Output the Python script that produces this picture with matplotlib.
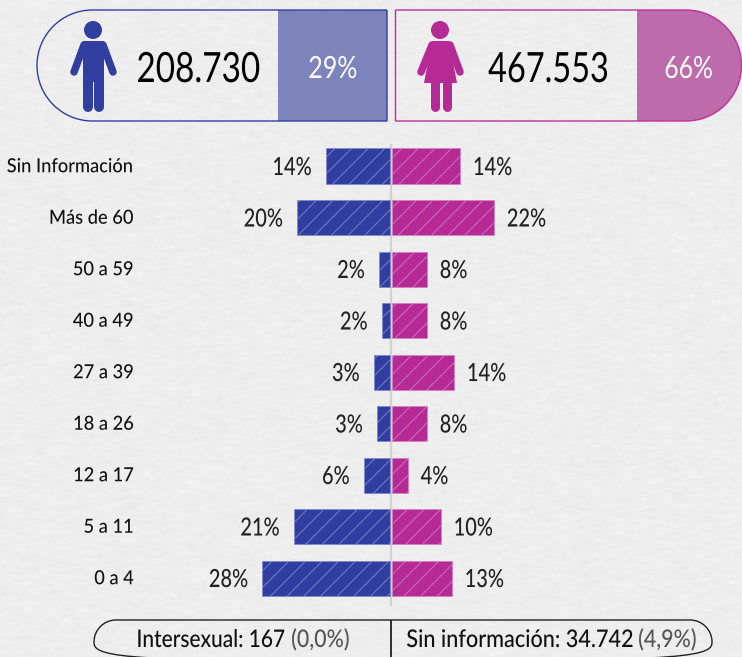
import numpy as np
import matplotlib
matplotlib.use('Agg')
import matplotlib.pyplot as plt
from matplotlib.patches import Circle, Polygon, PathPatch, Rectangle
from matplotlib.path import Path
from matplotlib.transforms import Affine2D
import matplotlib.patheffects as pe

categories = ['0 a 4', '5 a 11', '12 a 17', '18 a 26', '27 a 39', '40 a 49', '50 a 59', 'Más de 60', 'Sin Información']
men_len = [27.8, 20.9, 5.7, 2.8, 3.5, 1.8, 2.4, 20.2, 13.9]
women_len = [13.0, 10.6, 3.5, 7.6, 13.5, 7.6, 7.6, 22.2, 14.8]
men_labels = ['28%', '21%', '6%', '3%', '3%', '2%', '2%', '20%', '14%']
women_labels = ['13%', '10%', '4%', '8%', '14%', '8%', '8%', '22%', '14%']
men_total, men_share = '208.730', '29%'
women_total, women_share = '467.553', '66%'

BLUE = '#303f9f'
PINK = '#b52a94'
W, H = 742, 657
plt.rcParams['font.family'] = ['Lato', 'DejaVu Sans']
plt.rcParams['hatch.linewidth'] = 0.6


class Condense(pe.AbstractPathEffect):
    """Draws the real text narrower, keeping its left or right edge."""
    def __init__(self, sx, align='left'):
        super().__init__()
        self.sx, self.align = sx, align

    def draw_path(self, renderer, gc, tpath, affine, rgbFace=None):
        ext = tpath.get_extents()
        anchor = ext.x1 if self.align == 'right' else ext.x0
        t = Affine2D().translate(-anchor, 0).scale(self.sx, 1).translate(anchor, 0)
        renderer.draw_path(gc, tpath, t + affine, rgbFace)


fig = plt.figure(figsize=(W / 100, H / 100), dpi=100)

bg = fig.add_axes([0, 0, 1, 1])
bg.set_xlim(0, W); bg.set_ylim(H, 0); bg.axis('off')

rng = np.random.default_rng(3)
n = rng.normal(size=(H + 20, W + 20))
kx = np.ones(9) / 9; ky = np.ones(3) / 3
n = np.apply_along_axis(lambda r: np.convolve(r, kx, 'same'), 1, n)
n = np.apply_along_axis(lambda r: np.convolve(r, ky, 'same'), 0, n)
tex = 237 + n[10:-10, 10:-10] * 6
bg.imshow(np.clip(tex, 0, 255) / 255, cmap='gray', vmin=0, vmax=1, extent=(0, W, H, 0), aspect='auto', zorder=0)


def half_round(x0, x1, y0, y1, side):
    r = (y1 - y0) / 2
    k = 0.5523 * r
    C = Path.CURVE4; L = Path.LINETO
    if side == 'left':
        v = [(x1, y0), (x1, y1), (x0 + r, y1), (x0 + r - k, y1), (x0, y1 - r + k), (x0, y0 + r),
             (x0, y0 + r - k), (x0 + r - k, y0), (x0 + r, y0), (x1, y0)]
    else:
        v = [(x0, y0), (x0, y1), (x1 - r, y1), (x1 - r + k, y1), (x1, y1 - r + k), (x1, y0 + r),
             (x1, y0 + r - k), (x1 - r + k, y0), (x1 - r, y0), (x0, y0)]
    return Path(v, [Path.MOVETO, L, L, C, C, C, C, C, C, L])


def panel(x0, x1, fx0, fx1, side, color, fill):
    p = PathPatch(half_round(x0, x1, 10, 121, side), fc='none', ec=color, lw=1.0, zorder=3)
    bg.add_patch(p)
    r = Rectangle((fx0, 10), fx1 - fx0, 111, fc=fill, ec='none', zorder=2)
    bg.add_patch(r)
    r.set_clip_path(p)


panel(37, 387, 278, 387, 'left', BLUE, '#7d84bc')
panel(395.5, 741.5, 637, 742, 'right', '#c0309c', '#bd6bab')


def limb(pts, w, color):
    xs, ys = zip(*pts)
    bg.plot(xs, ys, color=color, lw=w * 0.72, solid_capstyle='round', zorder=4)


bg.add_patch(Circle((93, 30), 9, fc=BLUE, ec='none', zorder=4))
bg.add_patch(Polygon([(83, 41), (104, 41), (104, 82), (83, 82)], fc=BLUE, ec='none', zorder=4))
limb([(84, 45), (74, 72)], 7.5, BLUE)
limb([(103, 45), (113, 72)], 7.5, BLUE)
limb([(88, 78), (88, 107)], 10, BLUE)
limb([(99, 78), (99, 107)], 10, BLUE)
bg.add_patch(Circle((440, 30), 9, fc=PINK, ec='none', zorder=4))
bg.add_patch(Polygon([(432, 41), (449, 41), (457, 83), (424, 83)], fc=PINK, ec='none', zorder=4))
limb([(432, 45), (421, 72)], 7.5, PINK)
limb([(450, 45), (460, 72)], 7.5, PINK)
limb([(434.5, 78), (434.5, 107)], 9, PINK)
limb([(446.5, 78), (446.5, 107)], 9, PINK)


def ctext(x, y, s, size, color, sx, align='left', weight='normal'):
    bg.text(x, y, s, fontsize=size, color=color, ha=align, va='baseline', zorder=5, weight=weight,
            path_effects=[Condense(sx, align)])


ctext(136, 82, men_total, 30, 'black', 0.80)
ctext(308, 78, men_share, 22, 'white', 0.82)
ctext(488, 82, women_total, 30, 'black', 0.78)
ctext(664, 78, women_share, 22, 'white', 0.81)

bg.add_patch(PathPatch(half_round(94, 391, 620, 664, 'left'), fc='none', ec='#222222', lw=1.0, zorder=3))
bg.add_patch(PathPatch(half_round(391, 712, 620, 664, 'right'), fc='none', ec='#222222', lw=1.0, zorder=3))
ctext(285, 647, 'Intersexual: 167', 17.5, '#111111', 0.86, 'right', 'medium')
ctext(291, 647, '(0,0%)', 17.5, '#555555', 0.88, 'left', 'medium')
ctext(634, 647, 'Sin información: 34.742', 17.5, '#111111', 0.89, 'right', 'medium')
ctext(638, 647, '(4,9%)', 17.5, '#555555', 0.88, 'left', 'medium')

ax = fig.add_axes([0, 0, 1, 1], facecolor='none')
PX_PER_PCT = 4.6
STEP = 51.5
ax.set_xlim(-391 / PX_PER_PCT, (W - 391) / PX_PER_PCT)
ax.set_ylim((578 - H) / STEP, 578 / STEP)
ax.axis('off')
y = np.arange(len(categories))
gap = 1 / PX_PER_PCT
ax.barh(y, -np.array(men_len), left=-gap, height=35 / STEP, color=BLUE, edgecolor='#7f89cc', hatch='//', linewidth=0.5, zorder=2)
ax.barh(y, women_len, left=gap, height=35 / STEP, color=PINK, edgecolor='#d27fc0', hatch='//', linewidth=0.5, zorder=2)
ax.plot([0, 0], [(578 - 605) / STEP, (578 - 145) / STEP], color='#d2d2d2', lw=1.6, zorder=1)
for i, c in enumerate(categories):
    ax.annotate(c, (0, i), xycoords=('figure pixels', 'data'), xytext=(134 * 0.72, -4.5), textcoords='offset points',
                ha='right', va='baseline', fontsize=14, weight='medium', color='#111111',
                path_effects=[Condense(0.94, 'right')])
    ax.annotate(men_labels[i], (-men_len[i] - gap, i), xytext=(-10, -6.5), textcoords='offset points',
                ha='right', va='baseline', fontsize=18, weight='medium', color='#222222', path_effects=[Condense(0.8, 'right')])
    ax.annotate(women_labels[i], (women_len[i] + gap, i), xytext=(9, -6.5), textcoords='offset points',
                ha='left', va='baseline', fontsize=18, weight='medium', color='#222222', path_effects=[Condense(0.8)])

fig.savefig('out.png', dpi=100)
